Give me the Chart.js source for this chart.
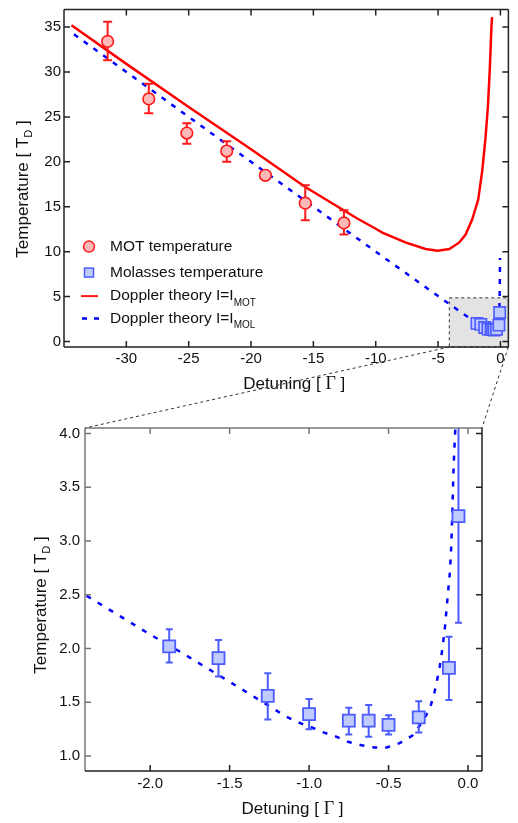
<!DOCTYPE html>
<html>
<head>
<meta charset="utf-8">
<script src="https://cdn.jsdelivr.net/npm/chart.js@4.4.0/dist/chart.umd.min.js"></script>
<style>
  html, body { margin: 0; padding: 0; background: #fff; }
  #wrap { position: relative; width: 518px; height: 823px; }
  canvas { position: absolute; left: 0; }
  #top { top: 0; }
  #bottom { top: 400px; }
  #links { top: 0; pointer-events: none; }
</style>
</head>
<body>
<div id="wrap">
  <canvas id="top" width="518" height="400"></canvas>
  <canvas id="bottom" width="518" height="423"></canvas>
  <canvas id="links" width="518" height="823"></canvas>
</div>
<script>
// MOT temperature (red circles)
const motDetuning = [-31.5, -28.2, -25.15, -21.95, -18.85, -15.65, -12.55];
const motTemp     = [33.4, 27.0, 23.2, 21.2, 18.5, 15.4, 13.2];
const motErrLow   = [31.3, 25.4, 22.0, 20.0, 18.1, 13.5, 11.9];
const motErrHigh  = [35.6, 28.7, 24.3, 22.3, 18.9, 17.4, 14.6];

// Molasses temperature (blue squares)
const molDetuning = [-1.88, -1.57, -1.26, -1.0, -0.75, -0.625, -0.5, -0.31, -0.12, -0.06];
const molTemp     = [2.02, 1.91, 1.56, 1.39, 1.33, 1.33, 1.29, 1.36, 1.82, 3.23];
const molErrLow   = [1.87, 1.74, 1.34, 1.25, 1.20, 1.18, 1.20, 1.22, 1.52, 2.24];
const molErrHigh  = [2.18, 2.08, 1.77, 1.53, 1.45, 1.475, 1.38, 1.51, 2.11, 4.22];

// Doppler theory I=I_MOT (red solid)
const theoryMotX = [-34.4, -30, -25, -20, -15.65, -13.4, -11.55, -10, -9.43, -7.57, -6, -5.04, -4.1, -3.32, -2.79, -2.26, -1.78, -1.46, -1.2, -1.0, -0.85, -0.77, -0.72, -0.67];
const theoryMotY = [35.2, 30.9, 26.1, 21.4, 17.2, 15.3, 13.75, 12.55, 12.1, 11.0, 10.3, 10.1, 10.3, 11.0, 11.9, 13.6, 15.8, 19.0, 22.6, 26.2, 30.4, 33.2, 35.0, 36.1];

// Doppler theory I=I_MOL (blue dashed), upper panel
const theoryMolX = [-34.2, -30, -25, -20, -15, -10, -5, -4, -3, -2, -1.5, -1, -0.56, -0.3, -0.2, -0.12, -0.08, -0.06, -0.045, -0.034];
const theoryMolY = [34.2, 30.0, 25.0, 20.0, 15.0, 10.0, 5.06, 4.08, 3.1, 2.16, 1.71, 1.31, 1.12, 1.35, 1.77, 2.73, 4.0, 5.3, 7.0, 9.3];

// Doppler theory I=I_MOL, zoomed panel
const zoomMolX = [-2.40, -2.2, -2.0, -1.8, -1.6, -1.4, -1.235, -1.16, -1.08, -0.99, -0.91, -0.83, -0.75, -0.67, -0.59, -0.51, -0.43, -0.35, -0.29, -0.24, -0.21, -0.18, -0.16, -0.145, -0.13, -0.114, -0.105, -0.10, -0.095, -0.09, -0.082, -0.078];
const zoomMolY = [2.49, 2.31, 2.13, 1.96, 1.78, 1.60, 1.45, 1.38, 1.32, 1.27, 1.22, 1.18, 1.13, 1.10, 1.08, 1.08, 1.12, 1.19, 1.31, 1.44, 1.60, 1.81, 2.01, 2.20, 2.45, 2.71, 2.96, 3.20, 3.47, 3.72, 3.98, 4.10];

// axes
const xTicksTop = [-30, -25, -20, -15, -10, -5, 0];
const yTicksTop = [0, 5, 10, 15, 20, 25, 30, 35];
const xTicksBottom = [-2.0, -1.5, -1.0, -0.5, 0.0];
const xTickLabelsBottom = ['-2.0', '-1.5', '-1.0', '-0.5', '0.0'];
const yTicksBottom = [1.0, 1.5, 2.0, 2.5, 3.0, 3.5, 4.0];
const yTickLabelsBottom = ['1.0', '1.5', '2.0', '2.5', '3.0', '3.5', '4.0'];

// zoomed region shown as grey box in the upper panel
const zoomBoxX = [-4.1, 0.64];
const zoomBoxY = [-0.61, 4.86];

const legendLabels = ['MOT temperature', 'Molasses temperature', 'Doppler theory I=I', 'Doppler theory I=I'];
const legendSubs = ['', '', 'MOT', 'MOL'];

const FONT = '"Liberation Sans", Arial, sans-serif';
const RED = '#ff1a1a';
const RED_FILL = '#ffb8b8';
const BLUE = '#4b5bff';
const BLUE_FILL = '#bfcaff';
const DASH_BLUE = '#0000ff';

const toXY = (xs, ys) => xs.map((x, i) => ({ x: x, y: ys[i] }));

function fixScale(key, size) {
    return scale => {
        scale[key] = size;
        scale.paddingTop = 0;
        scale.paddingBottom = 0;
        scale.paddingLeft = 0;
        scale.paddingRight = 0;
    };
}

function setTicks(values) {
    return scale => { scale.ticks = values.map(v => ({ value: v })); };
}

/**
 * Frame round the plot area with inward tick marks on all four sides
 */
const framePlugin = {
    id: 'frame',
    afterDatasetsDraw(chart, args, opts) {
        const { ctx, chartArea: a, scales: { x, y } } = chart;
        const L = 6;
        ctx.save();
        ctx.lineWidth = 1.5;
        const side = (color, fn) => {
            ctx.strokeStyle = color;
            ctx.beginPath();
            fn();
            ctx.stroke();
        };
        side(opts.left, () => {
            ctx.moveTo(a.left, a.bottom); ctx.lineTo(a.left, a.top);
            y.ticks.forEach(t => { const p = y.getPixelForValue(t.value); ctx.moveTo(a.left, p); ctx.lineTo(a.left + L, p); });
        });
        side(opts.top, () => {
            ctx.moveTo(a.left, a.top); ctx.lineTo(a.right, a.top);
            x.ticks.forEach(t => { const p = x.getPixelForValue(t.value); ctx.moveTo(p, a.top); ctx.lineTo(p, a.top + L); });
        });
        side(opts.right, () => {
            ctx.moveTo(a.right, a.top); ctx.lineTo(a.right, a.bottom);
            y.ticks.forEach(t => { const p = y.getPixelForValue(t.value); ctx.moveTo(a.right, p); ctx.lineTo(a.right - L, p); });
        });
        side(opts.bottom, () => {
            ctx.moveTo(a.left, a.bottom); ctx.lineTo(a.right, a.bottom);
            x.ticks.forEach(t => { const p = x.getPixelForValue(t.value); ctx.moveTo(p, a.bottom); ctx.lineTo(p, a.bottom - L); });
        });
        ctx.restore();
    }
};

/**
 * Error bars, drawn just before the dataset that owns them
 */
const errorBarPlugin = {
    id: 'errorBars',
    beforeDatasetDraw(chart, args) {
        const ds = chart.data.datasets[args.index];
        if (!ds.errLow) return;
        const { ctx, chartArea: a, scales: { x, y } } = chart;
        ctx.save();
        ctx.beginPath();
        ctx.rect(a.left, a.top, a.right - a.left, a.bottom - a.top);
        ctx.clip();
        ctx.strokeStyle = ds.borderColor;
        ctx.lineWidth = ds.errWidth;
        ctx.beginPath();
        ds.data.forEach((pt, i) => {
            const px = x.getPixelForValue(pt.x);
            const lo = y.getPixelForValue(ds.errLow[i]);
            const hi = y.getPixelForValue(ds.errHigh[i]);
            const c = ds.capHalf;
            ctx.moveTo(px, lo); ctx.lineTo(px, hi);
            ctx.moveTo(px - c, lo); ctx.lineTo(px + c, lo);
            ctx.moveTo(px - c, hi); ctx.lineTo(px + c, hi);
        });
        ctx.stroke();
        ctx.restore();
    }
};

/**
 * Grey box marking the zoomed region (upper panel only)
 */
const zoomBoxPlugin = {
    id: 'zoomBox',
    beforeDatasetsDraw(chart, args, opts) {
        if (!opts.show) return;
        const { ctx, scales: { x, y } } = chart;
        const l = x.getPixelForValue(zoomBoxX[0]), r = x.getPixelForValue(zoomBoxX[1]);
        const t = y.getPixelForValue(zoomBoxY[1]), b = y.getPixelForValue(zoomBoxY[0]);
        ctx.save();
        ctx.fillStyle = '#e3e3e3';
        ctx.fillRect(l, t, r - l, b - t);
        ctx.strokeStyle = '#333';
        ctx.lineWidth = 1;
        ctx.setLineDash([3, 3]);
        ctx.strokeRect(l, t, r - l, b - t);
        ctx.restore();
    }
};

function drawYTitle(ctx, cx, cy) {
    const big = '17px ' + FONT, small = '11px ' + FONT;
    ctx.save();
    ctx.translate(cx, cy);
    ctx.rotate(-Math.PI / 2);
    ctx.fillStyle = '#111';
    ctx.textBaseline = 'middle';
    ctx.textAlign = 'left';
    ctx.font = big;
    const w1 = ctx.measureText('Temperature [ T').width;
    const w3 = ctx.measureText(' ]').width;
    ctx.font = small;
    const w2 = ctx.measureText('D').width;
    let x = -(w1 + w2 + w3) / 2;
    ctx.font = big; ctx.fillText('Temperature [ T', x, 0); x += w1;
    ctx.font = small; ctx.fillText('D', x, 6); x += w2;
    ctx.font = big; ctx.fillText(' ]', x, 0);
    ctx.restore();
}

function drawXTitle(ctx, cx, cy) {
    const sans = '17px ' + FONT, serif = '18px "Liberation Serif", serif';
    ctx.save();
    ctx.fillStyle = '#111';
    ctx.textBaseline = 'middle';
    ctx.textAlign = 'left';
    ctx.font = sans;
    const w1 = ctx.measureText('Detuning [ ').width;
    const w3 = ctx.measureText(' ]').width;
    ctx.font = serif;
    const w2 = ctx.measureText('Γ').width;
    let x = cx - (w1 + w2 + w3) / 2;
    ctx.font = sans; ctx.fillText('Detuning [ ', x, cy); x += w1;
    ctx.font = serif; ctx.fillText('Γ', x, cy); x += w2;
    ctx.font = sans; ctx.fillText(' ]', x, cy);
    ctx.restore();
}

function drawLegend(ctx, a) {
    const mx = a.left + 25, tx = a.left + 46;
    const rows = [a.top + 237, a.top + 263, a.top + 286.5, a.top + 309];
    ctx.save();
    // markers
    ctx.lineWidth = 1.5;
    ctx.fillStyle = RED_FILL; ctx.strokeStyle = RED;
    ctx.beginPath(); ctx.arc(mx, rows[0], 5.5, 0, Math.PI * 2); ctx.fill(); ctx.stroke();
    ctx.fillStyle = BLUE_FILL; ctx.strokeStyle = BLUE;
    ctx.fillRect(mx - 4.5, rows[1] - 4.5, 9, 9); ctx.strokeRect(mx - 4.5, rows[1] - 4.5, 9, 9);
    ctx.lineWidth = 2; ctx.strokeStyle = RED;
    ctx.beginPath(); ctx.moveTo(mx - 8, rows[2]); ctx.lineTo(mx + 9, rows[2]); ctx.stroke();
    ctx.lineWidth = 2.5; ctx.strokeStyle = DASH_BLUE; ctx.setLineDash([5, 7]);
    ctx.beginPath(); ctx.moveTo(mx - 7, rows[3]); ctx.lineTo(mx + 10, rows[3]); ctx.stroke();
    ctx.setLineDash([]);
    // texts
    ctx.fillStyle = '#111';
    ctx.textBaseline = 'middle';
    ctx.textAlign = 'left';
    legendLabels.forEach((label, i) => {
        ctx.font = '15.5px ' + FONT;
        ctx.fillText(label, tx, rows[i]);
        if (legendSubs[i]) {
            const w = ctx.measureText(label).width;
            ctx.font = '10px ' + FONT;
            ctx.fillText(legendSubs[i], tx + w, rows[i] + 7);
        }
    });
    ctx.restore();
}

const topTitles = {
    id: 'topTitles',
    afterDraw(chart) {
        const a = chart.chartArea;
        drawYTitle(chart.ctx, 23, 189);
        drawXTitle(chart.ctx, (a.left + a.right) / 2 + 8, a.bottom + 37);
        drawLegend(chart.ctx, a);
    }
};

const bottomTitles = {
    id: 'bottomTitles',
    afterDraw(chart) {
        const a = chart.chartArea;
        drawYTitle(chart.ctx, 41, 205);
        drawXTitle(chart.ctx, (a.left + a.right) / 2 + 9, a.bottom + 38);
    }
};

const tickFont = { family: FONT, size: 15 };

const topChart = new Chart(document.getElementById('top'), {
    type: 'scatter',
    data: {
        datasets: [
            {
                label: 'MOT temperature',
                data: toXY(motDetuning, motTemp),
                errLow: motErrLow, errHigh: motErrHigh, errWidth: 2, capHalf: 4.5,
                pointStyle: 'circle', pointRadius: 5.8,
                backgroundColor: RED_FILL, borderColor: RED, borderWidth: 1.6,
                order: 0
            },
            {
                label: 'Molasses temperature',
                data: toXY(molDetuning, molTemp),
                pointStyle: 'rect', pointRadius: 8,
                backgroundColor: BLUE_FILL, borderColor: BLUE, borderWidth: 1.6,
                order: 1
            },
            {
                label: 'Doppler theory I=I_MOT',
                data: toXY(theoryMotX, theoryMotY),
                showLine: true, pointRadius: 0, tension: 0,
                borderColor: '#ff0000', borderWidth: 2.5,
                order: 2
            },
            {
                label: 'Doppler theory I=I_MOL',
                data: toXY(theoryMolX, theoryMolY),
                showLine: true, pointRadius: 0, tension: 0,
                borderColor: DASH_BLUE, borderWidth: 2.5, borderDash: [5, 7],
                order: 3
            }
        ]
    },
    options: {
        responsive: false,
        animation: false,
        events: [],
        layout: { padding: { left: 0, top: 4.5, right: 5, bottom: 0 } },
        plugins: {
            legend: { display: false },
            tooltip: { enabled: false },
            zoomBox: { show: true },
            frame: { left: '#222', top: '#222', right: '#222', bottom: '#222' }
        },
        scales: {
            x: {
                type: 'linear', min: -35, max: 0.64,
                afterBuildTicks: setTicks(xTicksTop),
                afterFit: fixScale('height', 53),
                grid: { display: false, drawTicks: false },
                border: { display: false },
                ticks: { font: tickFont, color: '#111', padding: 3, maxRotation: 0, callback: v => String(v) }
            },
            y: {
                type: 'linear', min: -0.61, max: 36.94,
                afterBuildTicks: setTicks(yTicksTop),
                afterFit: fixScale('width', 64),
                grid: { display: false, drawTicks: false },
                border: { display: false },
                ticks: { font: tickFont, color: '#111', padding: 3, callback: v => String(v) }
            }
        }
    },
    plugins: [zoomBoxPlugin, errorBarPlugin, framePlugin, topTitles]
});

const bottomChart = new Chart(document.getElementById('bottom'), {
    type: 'scatter',
    data: {
        datasets: [
            {
                label: 'Molasses temperature',
                data: toXY(molDetuning, molTemp),
                errLow: molErrLow, errHigh: molErrHigh, errWidth: 2, capHalf: 3.5,
                pointStyle: 'rect', pointRadius: 8.5,
                backgroundColor: BLUE_FILL, borderColor: BLUE, borderWidth: 1.8,
                order: 0
            },
            {
                label: 'Doppler theory I=I_MOL',
                data: toXY(zoomMolX, zoomMolY),
                showLine: true, pointRadius: 0, tension: 0,
                borderColor: DASH_BLUE, borderWidth: 2.5, borderDash: [5, 8],
                order: 1
            }
        ]
    },
    options: {
        responsive: false,
        animation: false,
        events: [],
        layout: { padding: { left: 0, top: 28, right: 36, bottom: 0 } },
        plugins: {
            legend: { display: false },
            tooltip: { enabled: false },
            zoomBox: { show: false },
            frame: { left: '#777', top: '#777', right: '#222', bottom: '#222' }
        },
        scales: {
            x: {
                type: 'linear', min: -2.41, max: 0.088,
                afterBuildTicks: setTicks(xTicksBottom),
                afterFit: fixScale('height', 52),
                grid: { display: false, drawTicks: false },
                border: { display: false },
                ticks: { font: tickFont, color: '#111', padding: 4, maxRotation: 0,
                         callback: (v, i) => xTickLabelsBottom[i] }
            },
            y: {
                type: 'linear', min: 0.861, max: 4.05,
                afterBuildTicks: setTicks(yTicksBottom),
                afterFit: fixScale('width', 85),
                grid: { display: false, drawTicks: false },
                border: { display: false },
                ticks: { font: tickFont, color: '#111', padding: 5,
                         callback: (v, i) => yTickLabelsBottom[i] }
            }
        }
    },
    plugins: [errorBarPlugin, framePlugin, bottomTitles]
});

// Dotted lines joining the grey box to the zoomed panel
(function drawLinks() {
    const ctx = document.getElementById('links').getContext('2d');
    const off = 400;
    const a2 = bottomChart.chartArea;
    const boxLeft = topChart.scales.x.getPixelForValue(zoomBoxX[0]);
    const boxRight = topChart.scales.x.getPixelForValue(zoomBoxX[1]);
    const boxBottom = topChart.scales.y.getPixelForValue(zoomBoxY[0]);
    ctx.strokeStyle = '#333';
    ctx.lineWidth = 1;
    ctx.setLineDash([3, 3]);
    ctx.beginPath();
    ctx.moveTo(boxLeft, boxBottom); ctx.lineTo(a2.left, a2.top + off);
    ctx.moveTo(boxRight, boxBottom); ctx.lineTo(a2.right, a2.top + off);
    ctx.stroke();
})();
</script>
</body>
</html>
